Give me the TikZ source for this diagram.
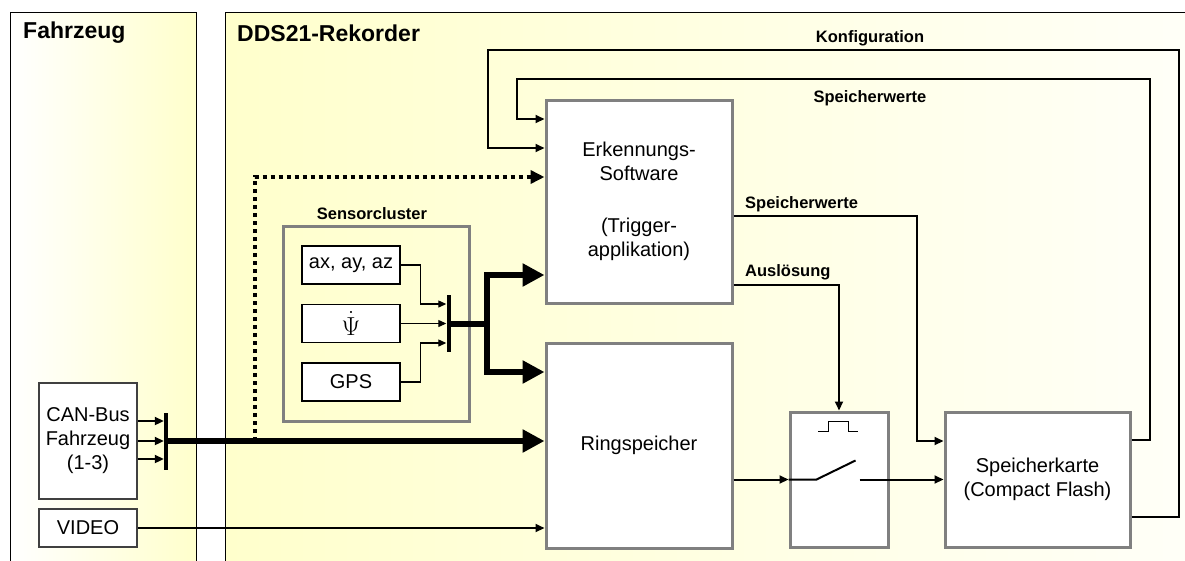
\documentclass[tikz,border=0pt]{standalone}
\usepackage{fix-cm}
\usepackage{fontspec}
\setmainfont{Liberation Sans}
\usetikzlibrary{arrows.meta,positioning}
\definecolor{paneyellow}{RGB}{255,255,204}
\definecolor{panepale}{RGB}{255,255,248}
\definecolor{boxgray}{RGB}{128,128,128}
\begin{document}
\begin{tikzpicture}[x=1pt,y=-1pt]
    \tikzstyle{every node}+=[inner sep=0pt, font=\fontsize{20}{24}\selectfont]
    \tikzstyle{grayblock}=[draw=boxgray, line width=3pt, fill=white, align=center]
    \tikzstyle{clusterframe}=[draw=boxgray, line width=3pt, minimum width=186pt, minimum height=195pt]
    \tikzstyle{sensbox}=[draw=black, line width=1.2pt, fill=white, minimum width=98pt, minimum height=38pt]
    \tikzstyle{extbox}=[draw=black!75, line width=1.2pt, fill=white, minimum width=98pt, align=center]
    \tikzstyle{busbar}=[fill=black, minimum width=4pt]
    \tikzstyle{lbl}=[font=\bfseries\fontsize{16.5}{20}\selectfont]
    \tikzstyle{ttl}=[anchor=west, font=\bfseries\fontsize{23}{28}\selectfont]
    \tikzstyle{sigarr}=[line width=2pt, -{Triangle[length=9pt,width=8pt]}]
    \tikzstyle{thinarr}=[line width=1.2pt, -{Triangle[length=8pt,width=7pt]}]
    \tikzstyle{busarr}=[line width=6pt, -{Triangle[length=22pt,width=22pt]}]
    \tikzstyle{dotarr}=[line width=4pt, dash pattern=on 4pt off 4pt, -{Triangle[length=14pt,width=13pt]}]
    \useasboundingbox (0,0) rectangle (1185,560);
    \clip (0,0) rectangle (1185,560);
    \shade[left color=white, right color=paneyellow] (10.5,12) rectangle (196,575);
    \draw[line width=1pt] (10.5,575) -- (10.5,12) -- (196,12) -- (196,575);
    \shade[left color=paneyellow, right color=panepale] (225,12) rectangle (1195,575);
    \draw[line width=1pt] (225,575) -- (225,12) -- (1195,12);
    \node[ttl] (tfz) at (23,33) {Fahrzeug};
    \node[ttl] (tdds) at (237,33) {DDS21-Rekorder};
    \node[grayblock, minimum width=186pt, minimum height=203pt] (erk) at (639,201.5) {Erkennungs-\\Software\\[28pt](Trigger-\\applikation)};
    \node[grayblock, minimum width=186pt, minimum height=205pt] (ring) at (639,445.5) {Ringspeicher};
    \node[grayblock, minimum width=98pt, minimum height=135pt] (sw) at (839,479.5) {};
    \node[grayblock, minimum width=185pt, minimum height=135pt] (karte) at (1037.5,479.5) {Speicherkarte\\(Compact Flash)};
    \node[clusterframe] (cluster) at (376,323.5) {};
    \node[lbl] (tsens) at (372,214) {Sensorcluster};
    \node[sensbox] (acc) at (351,265) {ax, ay, az};
    \node[sensbox, font=\fontsize{26}{30}\selectfont] (psi) at (351,323.5) {$\dot{\Psi}$};
    \node[sensbox] (gps) at (351,382) {GPS};
    \node[busbar, minimum height=57pt] (sbar) at (448.5,323.5) {};
    \node[extbox, minimum height=116pt] (can) at (88,441) {CAN-Bus\\Fahrzeug\\(1-3)};
    \node[extbox, minimum height=38pt] (video) at (88,528) {VIDEO};
    \node[busbar, minimum height=57pt] (cbar) at (166,441) {};
    \node[lbl] (tkonf) at (870,38) {Konfiguration};
    \node[lbl] (tspo) at (870,98) {Speicherwerte};
    \node[lbl, anchor=west] (tspm) at (745,204) {Speicherwerte};
    \node[lbl, anchor=west] (taus) at (745,272) {Auslösung};
    \coordinate (konfR) at (1179,50);
    \coordinate (konfL) at (488,148);
    \coordinate (swR) at (1150,79);
    \coordinate (swL) at (517,119);
    \coordinate (swM) at (917,216);
    \coordinate (dotbase) at (254.5,441);
    \coordinate (split) at (487,323.5);
    \draw[sigarr] ([yshift=-37.5pt]karte.east) -| (konfR) -| (konfL) -- ([yshift=53.5pt]erk.west);
    \draw[sigarr] ([yshift=39.5pt]karte.east) -| (swR) -| (swL) -- ([yshift=82.5pt]erk.west);
    \draw[sigarr] ([yshift=-14.5pt]erk.east) -- (swM) |- ([yshift=38.5pt]karte.west);
    \draw[sigarr] ([yshift=-83.5pt]erk.east) -| (sw.north);
    \draw[sigarr] ([yshift=-34pt]ring.east) -- (sw.west);
    \draw[line width=2pt] (sw.west) -- ++(28,0) -- ++(39,-19);
    \draw[sigarr] ([xshift=-30pt]sw.east) -- (karte.west);
    \draw[line width=1pt] (818,431) -- ++(10,0) -- ++(0,-10) -- ++(20,0) -- ++(0,10) -- ++(10,0);
    \draw[dotarr] (dotbase) |- ([yshift=24.5pt]erk.west);
    \draw[sigarr] ([yshift=20pt]can.east) -- ([yshift=20pt]cbar.west);
    \draw[sigarr] (can.east) -- (cbar.west);
    \draw[sigarr] ([yshift=-18pt]can.east) -- ([yshift=-18pt]cbar.west);
    \draw[busarr] (cbar.center) -- ([yshift=4.5pt]ring.west);
    \draw[sigarr] (video.east) -- ([yshift=-82.5pt]ring.west);
    \draw[thinarr] (acc.east) -- ++(20,0) |- ([yshift=19.5pt]sbar.west);
    \draw[thinarr] (psi.east) -- (sbar.west);
    \draw[thinarr] (gps.east) -- ++(20,0) |- ([yshift=-19.5pt]sbar.west);
    \draw[line width=6pt] (sbar.center) -- (split);
    \draw[busarr] (split) |- ([yshift=-73.5pt]erk.west);
    \draw[busarr] (split) |- ([yshift=73.5pt]ring.west);
\end{tikzpicture}
\end{document}
